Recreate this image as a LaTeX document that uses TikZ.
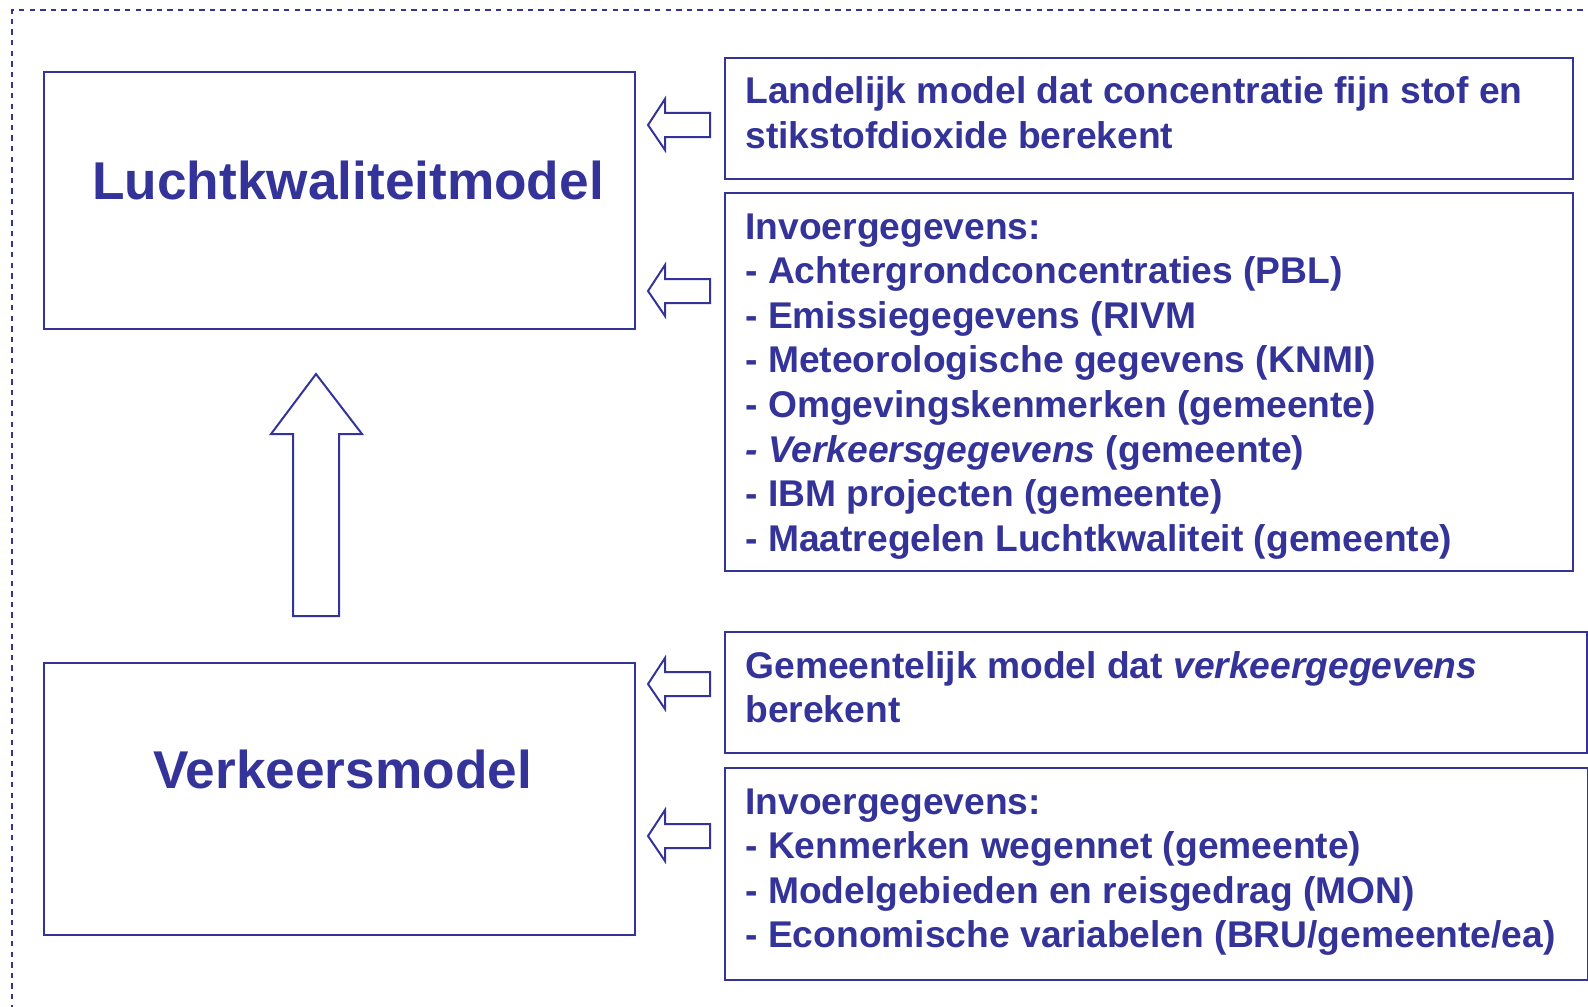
\documentclass[tikz,border=0pt]{standalone}
\usepackage{fontspec}
\setmainfont{Liberation Sans}
\definecolor{navy}{RGB}{51,51,153}
\begin{document}
\begin{tikzpicture}[x=0.5pt,y=-0.5pt,
  box/.style={draw=navy, line width=1pt, inner sep=0pt, anchor=north west},
  txt/.style={text=navy, inner sep=0pt, anchor=base west, font=\fontsize{18.6pt}{22.3pt}\selectfont\bfseries},
  title/.style={text=navy, inner sep=0pt, anchor=base west, font=\fontsize{26.6pt}{30pt}\selectfont\bfseries},
  blockarrow/.style={draw=navy, line width=1pt, fill=white, line join=miter}]
\useasboundingbox (0,0) rectangle (1588,1006);
% dashed frame
\draw[navy, line width=1pt, dash pattern=on 2.7pt off 2.6pt] (12,1010) -- (12,10) -- (1592,10);
% left boxes
\node[box, minimum width=295.5pt, minimum height=128.5pt] (lkm) at (43,71) {};
\node[box, minimum width=295.5pt, minimum height=136pt] (vkm) at (43,662) {};
\node[title] (lkmt) at (92,199) {Luchtkwaliteitmodel};
\node[title] (vkmt) at (153,788) {Verkeersmodel};
% right boxes
\node[box, minimum width=424pt, minimum height=60.5pt] (r1) at (724,57) {};
\node[box, minimum width=424pt, minimum height=189pt] (r2) at (724,192) {};
\node[box, minimum width=431pt, minimum height=60.5pt] (r3) at (724,631) {};
\node[box, minimum width=431.5pt, minimum height=106pt] (r4) at (724,767) {};
% texts
\node[txt] (t1a) at (745,104) {Landelijk model dat concentratie fijn stof en};
\node[txt] (t1b) at (745,148.6) {stikstofdioxide berekent};
\node[txt] (t2a) at (745,239) {Invoergegevens:};
\node[txt] (t2b) at (745,283.6) {- Achtergrondconcentraties (PBL)};
\node[txt] (t2c) at (745,328.2) {- Emissiegegevens (RIVM};
\node[txt] (t2d) at (745,372.8) {- Meteorologische gegevens (KNMI)};
\node[txt] (t2e) at (745,417.4) {- Omgevingskenmerken (gemeente)};
\node[txt] (t2f) at (745,462) {\textit{- Verkeersgegevens} (gemeente)};
\node[txt] (t2g) at (745,506.6) {- IBM projecten (gemeente)};
\node[txt] (t2h) at (745,551.2) {- Maatregelen Luchtkwaliteit (gemeente)};
\node[txt] (t3a) at (745,678) {Gemeentelijk model dat \textit{verkeergegevens}};
\node[txt] (t3b) at (745,722.6) {berekent};
\node[txt] (t4a) at (745,814) {Invoergegevens:};
\node[txt] (t4b) at (745,858.6) {- Kenmerken wegennet (gemeente)};
\node[txt] (t4c) at (745,903.2) {- Modelgebieden en reisgedrag (MON)};
\node[txt] (t4d) at (745,947.8) {- Economische variabelen (BRU/gemeente/ea)};
% left-pointing block arrows
\foreach \ty in {125,291,684,836}{
  \draw[blockarrow] (648,\ty) -- (665,\ty-26) -- (665,\ty-12) -- (710,\ty-12)
    -- (710,\ty+12) -- (665,\ty+12) -- (665,\ty+25) -- cycle;
}
% upward block arrow
\draw[blockarrow] (316,374) -- (362,434) -- (339,434) -- (339,616) -- (293,616)
  -- (293,434) -- (271,434) -- cycle;
\end{tikzpicture}
\end{document}
